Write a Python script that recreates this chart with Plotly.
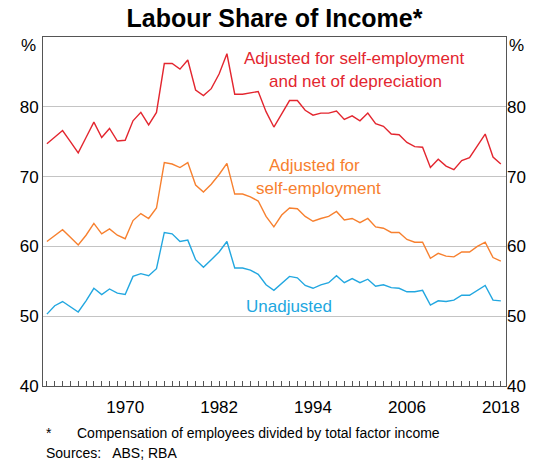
import plotly.graph_objects as go

years = list(range(1960, 2019))

adj_self_emp_net_dep = [74.7, 75.6, 76.6, 75.0, 73.4, 75.6, 77.8, 75.6, 76.9, 75.1,
                        75.2, 78.0, 79.2, 77.4, 79.2, 86.2, 86.2, 85.4, 86.7, 82.4,
                        81.6, 82.6, 84.7, 87.6, 81.8, 81.8, 82.0, 82.2, 79.3, 77.1,
                        79.0, 80.9, 80.9, 79.5, 78.8, 79.1, 79.1, 79.4, 78.2, 78.7,
                        78.0, 79.1, 77.6, 77.2, 76.1, 76.0, 74.9, 74.3, 74.2, 71.3,
                        72.5, 71.5, 71.0, 72.3, 72.7, 74.5, 76.1, 72.8, 71.8]

adj_self_emp = [60.7, 61.5, 62.4, 61.3, 60.2, 61.6, 63.3, 61.8, 62.5, 61.6,
                61.1, 63.7, 64.7, 64.0, 65.5, 72.0, 71.8, 71.3, 72.0, 68.8,
                67.8, 68.9, 70.3, 71.9, 67.5, 67.5, 67.1, 66.5, 64.3, 62.8,
                64.5, 65.5, 65.4, 64.3, 63.6, 64.0, 64.3, 65.0, 63.8, 64.0,
                63.4, 64.0, 62.8, 62.6, 62.0, 62.0, 61.0, 60.6, 60.6, 58.3,
                59.0, 58.6, 58.5, 59.2, 59.2, 60.0, 60.6, 58.4, 57.9]

unadjusted = [50.3, 51.5, 52.1, 51.3, 50.6, 52.2, 54.0, 53.1, 53.9, 53.3,
              53.1, 55.7, 56.1, 55.8, 56.8, 62.0, 61.8, 60.7, 60.9, 58.1,
              57.0, 58.1, 59.2, 60.7, 56.9, 56.9, 56.6, 56.0, 54.5, 53.7,
              54.7, 55.7, 55.5, 54.4, 54.0, 54.5, 54.8, 55.8, 54.8, 55.4,
              54.8, 55.3, 54.3, 54.5, 54.1, 54.0, 53.5, 53.5, 53.7, 51.6,
              52.2, 52.1, 52.3, 53.0, 53.0, 53.7, 54.4, 52.3, 52.2]

x_label_years = [1970, 1982, 1994, 2006, 2018]
y_ticks = [40, 50, 60, 70, 80]

RED = "#E3262F"
ORANGE = "#F7802F"
BLUE = "#22A7E0"
FONT = "Liberation Sans, Arial, sans-serif"

# The page body has an 8px default margin; the figure is sized to fit the window.
OFF = 8
W, H = 538 - OFF, 463 - OFF

fig = go.Figure()
fig.add_trace(go.Scatter(x=years, y=adj_self_emp_net_dep, mode="lines",
                         line=dict(color=RED, width=1.4), hoverinfo="skip"))
fig.add_trace(go.Scatter(x=years, y=adj_self_emp, mode="lines",
                         line=dict(color=ORANGE, width=1.4), hoverinfo="skip"))
fig.add_trace(go.Scatter(x=years, y=unadjusted, mode="lines",
                         line=dict(color=BLUE, width=1.4), hoverinfo="skip"))
# invisible trace so the right-hand axis is drawn
fig.add_trace(go.Scatter(x=[years[0]], y=[40], yaxis="y2", mode="markers",
                         marker=dict(opacity=0), hoverinfo="skip"))

tick_text = [str(y) if y in x_label_years else "" for y in years]

fig.update_layout(
    width=W, height=H,
    margin=dict(l=37 - OFF, r=538 - 512, t=37 - OFF, b=463 - 386),
    paper_bgcolor="white", plot_bgcolor="white",
    showlegend=False,
    font=dict(family=FONT, size=17, color="#000000"),
    title=dict(text="<b>Labour Share of Income*</b>", x=0.5, xref="paper",
               y=1 - (18 - OFF) / H, yref="container", xanchor="center",
               yanchor="middle",
               font=dict(size=25, family=FONT, color="#000000")),
    xaxis=dict(range=[1959.5, 2018.66], tickmode="array", tickvals=years,
               ticktext=tick_text, ticks="inside", ticklen=5, tickwidth=1,
               tickcolor="#555555", showgrid=False, showline=True,
               linecolor="#555555", linewidth=1, mirror=True, zeroline=False,
               ticklabelstandoff=6, tickfont=dict(size=17)),
    yaxis=dict(range=[40, 90], tickmode="array", tickvals=y_ticks,
               ticktext=[str(v) for v in y_ticks], ticks="", showgrid=True,
               gridcolor="#C4C4C4", gridwidth=1, showline=True,
               linecolor="#555555", linewidth=1, mirror=True, zeroline=False,
               tickfont=dict(size=17)),
    yaxis2=dict(range=[40, 90], overlaying="y", side="right", tickmode="array",
                tickvals=y_ticks, ticktext=[str(v) for v in y_ticks], ticks="",
                showgrid=False, showline=False, zeroline=False,
                tickfont=dict(size=17)),
)


def px_to_year(px):
    return 1960 + (px - 41) / 8.03


def py_to_val(py):
    return 40 + (386 - py) / 6.98


series_labels = [
    ("Adjusted for self-employment", 356, 58.5, RED),
    ("and net of depreciation", 358, 81.5, RED),
    ("Adjusted for", 316, 165, ORANGE),
    ("self-employment", 320, 188, ORANGE),
    ("Unadjusted", 289, 306, BLUE),
]
for text, px, py, color in series_labels:
    fig.add_annotation(text=text, x=px_to_year(px), y=py_to_val(py), xref="x",
                       yref="y", showarrow=False, xanchor="center",
                       yanchor="middle",
                       font=dict(size=17, color=color, family=FONT))

# % unit labels
for xp in (22, 523):
    fig.add_annotation(text="%", x=(xp - 37) / 475, y=(386 - 46) / 349,
                       xref="paper", yref="paper", showarrow=False,
                       xanchor="center", yanchor="middle",
                       font=dict(size=17, color="#000000", family=FONT))

# footnotes
fig.add_annotation(text="*", x=(38 - 37) / 475, y=-(433 - 386) / 349, xref="paper",
                   yref="paper", showarrow=False, xanchor="left", yanchor="middle",
                   font=dict(size=14, color="#000000", family=FONT))
fig.add_annotation(text="Compensation of employees divided by total factor income",
                   x=(70 - 37) / 475, y=-(433 - 386) / 349, xref="paper",
                   yref="paper", showarrow=False, xanchor="left", yanchor="middle",
                   font=dict(size=14, color="#000000", family=FONT))
fig.add_annotation(text="Sources:   ABS; RBA", x=(38 - 37) / 475,
                   y=-(453 - 386) / 349, xref="paper", yref="paper",
                   showarrow=False, xanchor="left", yanchor="middle",
                   font=dict(size=14, color="#000000", family=FONT))

fig.write_html("out.html")
